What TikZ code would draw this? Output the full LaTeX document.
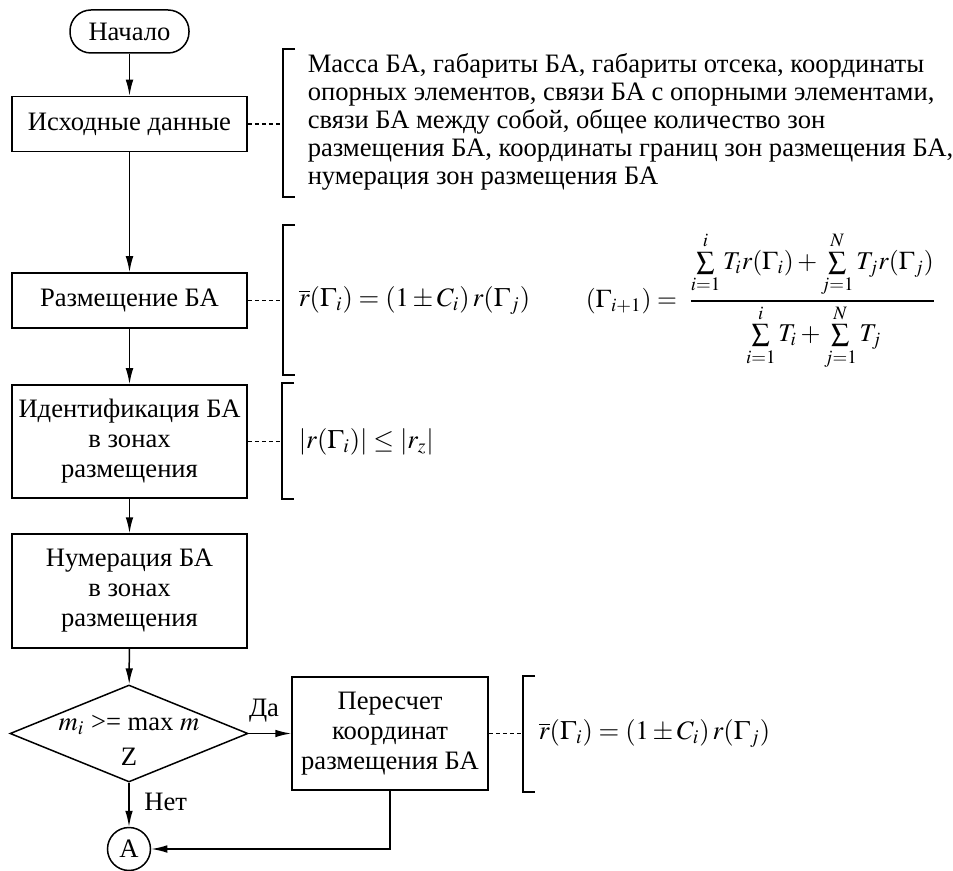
\documentclass[tikz,border=0pt]{standalone}
\usepackage{amsmath}
\usepackage{mathptmx}
\usepackage{fontspec}
\setmainfont{Liberation Serif}
\usetikzlibrary{shapes.geometric,arrows.meta}
\newcommand{\chartfont}{\fontsize{13.3pt}{15pt}\selectfont}
\newcommand{\notefont}{\fontsize{13.3pt}{14pt}\selectfont}
\tikzset{
  block/.style={draw,rectangle,minimum width=117.5pt,align=center,inner sep=2pt,font=\chartfont},
  terminal/.style={draw,rectangle,rounded corners=10.5pt,minimum width=59.5pt,minimum height=21.5pt,font=\chartfont},
  decision/.style={draw,diamond,minimum width=119pt,minimum height=48.5pt,inner sep=0pt},
  connector/.style={draw,circle,minimum size=21.5pt,inner sep=0pt,font=\chartfont},
  note/.style={anchor=west,inner sep=0pt,font=\chartfont},
  link/.style={dash pattern=on 2pt off 1.5pt},
}
\begin{document}
\begin{tikzpicture}[x=0.5pt,y=-0.5pt,>={Latex[length=8pt,width=3.8pt]},line width=0.75pt]
\useasboundingbox (0,0) rectangle (953,871);
%%
  % Node: Start
  \node[terminal] (start) at (129.5,31.5) {Начало};
  % Node: Input
  \node[block,minimum height=27.5pt] (input) at (129.5,124) {Исходные данные};
  % Node: Place
  \node[block,minimum height=27.5pt] (place) at (129.5,300.5) {Размещение БА};
  % Node: Ident
  \node[block,minimum height=56.5pt] (ident) at (129.5,441.5) {Идентификация БА\\в зонах\\размещения};
  % Node: Number
  \node[block,minimum height=57pt] (number) at (129.5,591) {Нумерация БА\\в зонах\\размещения};
  % Node: Check
  \node[decision,label={[align=center,font=\chartfont,yshift=-3.5pt]center:{$m_i$ >= max $m$\\[2.5pt]Z}}]
    (check) at (129,733.5) {};
  % Node: Recalc
  \node[block,minimum width=98pt,minimum height=56.5pt] (recalc) at (390,733.5) {Пересчет\\координат\\размещения БА};
  % Node: ConA
  \node[connector] (conA) at (129,849) {А};
%
  % Edge: Start -> Input
  \draw[->] (start) -- (input);
  % Edge: Input -> Place
  \draw[->] (input) -- (place);
  % Edge: Place -> Ident
  \draw[->] (place) -- (ident);
  % Edge: Ident -> Number
  \draw[->] (ident) -- (number);
  % Edge: Number -> Check
  \draw[->] (number) -- (check);
  % Edge: Check -> Recalc
  \draw[->] (check) -- (recalc) node[pos=0.36,above=2pt,font=\chartfont] {Да};
  % Edge: Check -> ConA
  \draw[->] (check) -- (conA) node[pos=0.43,right=4pt,font=\chartfont] {Нет};
  % Edge: Recalc -> ConA
  \draw[->] (recalc) |- (conA);
%
  % Note: Input
  \coordinate (br1) at (283,124);
  \draw[link] (input) -- (br1);
  \draw (295,49) -| (283,197) -- (295,197);
  \node[anchor=north west,inner sep=0pt,align=left,font=\notefont] (data) at (307,53)
    {Масса БА, габариты БА, габариты отсека, координаты\\
     опорных элементов, связи БА с опорными элементами,\\
     связи БА между собой, общее количество зон\\
     размещения БА, координаты границ зон размещения БА,\\
     нумерация зон размещения БА};
  % Note: Place
  \coordinate (br2) at (283,300.5);
  \draw[link] (place) -- (br2);
  \draw (295,225) -| (283,375) -- (295,375);
  \node[note] (f1) at (298,300.5) {$\overline{r}(\Gamma_i) = (1 \pm C_i)\,r(\Gamma_j)$};
  \node[note,font=\fontsize{12.8pt}{14pt}\selectfont] (f2) at (585,301) {$(\Gamma_{i+1}) = \;\dfrac{\sum\limits_{i=1}^{i} T_i r(\Gamma_i) + \sum\limits_{j=1}^{N} T_j r(\Gamma_j)}{\rule{0pt}{12pt}\sum\limits_{i=1}^{i} T_i + \sum\limits_{j=1}^{N} T_j}$};
  % Note: Ident
  \coordinate (br3) at (282,441.5);
  \draw[link] (ident) -- (br3);
  \draw (294,383) -| (282,499) -- (294,499);
  \node[note] (f3) at (298,441.5) {$|r(\Gamma_i)| \le |r_z|$};
  % Note: Recalc
  \coordinate (br5) at (523,733.5);
  \draw[link] (recalc) -- (br5);
  \draw (535,676) -| (523,792) -- (535,792);
  \node[note] (f5) at (538,733.5) {$\overline{r}(\Gamma_i) = (1 \pm C_i)\,r(\Gamma_j)$};
%
\end{tikzpicture}
\end{document}
